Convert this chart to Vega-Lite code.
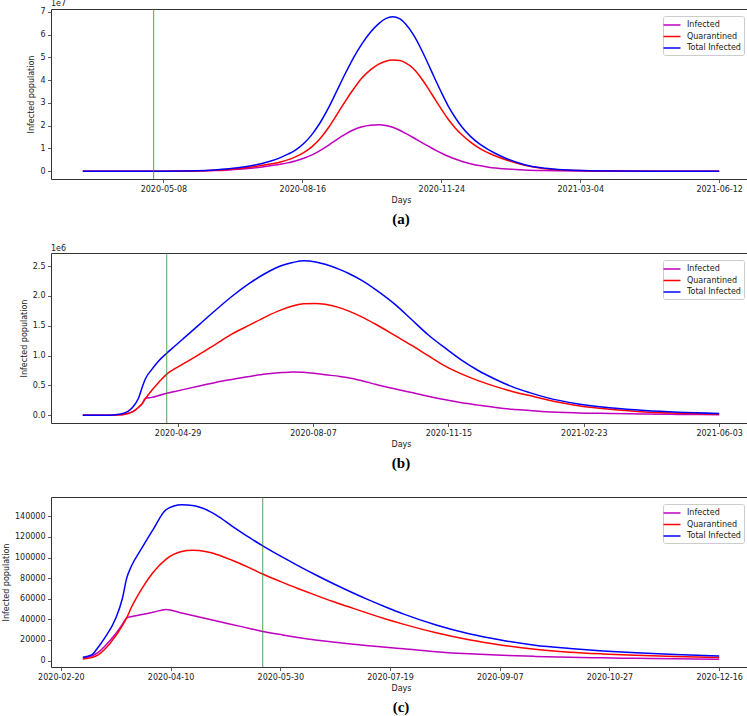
{
  "$schema": "https://vega.github.io/schema/vega-lite/v6.json",
  "padding": {"left": 1, "top": 0, "right": 0, "bottom": 0},
  "spacing": 17,
  "config": {
    "font": "DejaVu Sans",
    "view": {"stroke": "#333333", "strokeWidth": 1},
    "axis": {"grid": false, "domain": false, "tickColor": "#333333", "tickSize": 3.5, "tickWidth": 0.8, "labelFontSize": 8, "labelColor": "#1a1a1a", "labelPadding": 2.5, "labelFlush": false, "titleFontSize": 8, "titleFontWeight": "normal", "titleColor": "#1a1a1a", "titlePadding": 3, "labelFont": "DejaVu Sans", "titleFont": "DejaVu Sans"},
    "axisY": {"titlePadding": 4},
    "legend": {"orient": "top-right", "offset": 7, "symbolType": "M-1.7,0H1.7", "symbolSize": 100, "symbolStrokeWidth": 1.5, "labelFontSize": 8, "labelFont": "DejaVu Sans", "labelColor": "#1a1a1a", "labelOffset": 9, "padding": 3, "rowPadding": 1.5, "strokeColor": "#cccccc", "fillColor": "#ffffff", "cornerRadius": 2}
  },
  "resolve": {"scale": {"color": "independent", "x": "independent", "y": "independent"}, "legend": {"color": "independent"}},
  "vconcat": [
    {
      "title": {"text": "1e7", "anchor": "start", "orient": "top", "frame": "group", "fontSize": 8, "fontWeight": "normal", "offset": -1, "font": "DejaVu Sans", "color": "#1a1a1a"},
      "resolve": {"scale": {"color": "independent"}, "legend": {"color": "independent"}},
      "vconcat": [
        {
          "title": {"text": "(a)", "orient": "bottom", "font": "Liberation Serif", "fontSize": 15, "fontWeight": "bold", "anchor": "middle", "frame": "group", "offset": 8, "color": "#000000"},
          "width": 700,
          "height": 170,
          "layer": [
            {
              "data": {"values": [
                {"d": "2020-03-11", "Infected": 1000, "Quarantined": 1000, "Total Infected": 1000},
                {"d": "2020-04-10", "Infected": 3000, "Quarantined": 3000, "Total Infected": 5000},
                {"d": "2020-05-10", "Infected": 20000, "Quarantined": 20000, "Total Infected": 30000},
                {"d": "2020-05-31", "Infected": 100000, "Quarantined": 120000, "Total Infected": 200000},
                {"d": "2020-06-14", "Infected": 300000, "Quarantined": 400000, "Total Infected": 600000},
                {"d": "2020-06-24", "Infected": 600000, "Quarantined": 800000, "Total Infected": 1100000},
                {"d": "2020-07-06", "Infected": 1100000, "Quarantined": 1500000, "Total Infected": 2000000},
                {"d": "2020-07-18", "Infected": 1900000, "Quarantined": 2600000, "Total Infected": 3400000},
                {"d": "2020-07-25", "Infected": 2500000, "Quarantined": 3300000, "Total Infected": 4600000},
                {"d": "2020-08-01", "Infected": 3200000, "Quarantined": 4200000, "Total Infected": 6200000},
                {"d": "2020-08-06", "Infected": 3800000, "Quarantined": 5100000, "Total Infected": 7600000},
                {"d": "2020-08-11", "Infected": 4500000, "Quarantined": 6300000, "Total Infected": 9300000},
                {"d": "2020-08-17", "Infected": 5700000, "Quarantined": 8200000, "Total Infected": 12200000},
                {"d": "2020-08-23", "Infected": 7200000, "Quarantined": 10800000, "Total Infected": 16200000},
                {"d": "2020-08-29", "Infected": 9200000, "Quarantined": 14500000, "Total Infected": 21500000},
                {"d": "2020-09-04", "Infected": 11500000, "Quarantined": 19300000, "Total Infected": 28000000},
                {"d": "2020-09-10", "Infected": 14000000, "Quarantined": 25000000, "Total Infected": 35500000},
                {"d": "2020-09-16", "Infected": 16300000, "Quarantined": 30800000, "Total Infected": 43000000},
                {"d": "2020-09-22", "Infected": 18200000, "Quarantined": 36200000, "Total Infected": 50000000},
                {"d": "2020-09-28", "Infected": 19500000, "Quarantined": 41000000, "Total Infected": 56000000},
                {"d": "2020-10-04", "Infected": 20200000, "Quarantined": 44500000, "Total Infected": 61000000},
                {"d": "2020-10-10", "Infected": 20400000, "Quarantined": 47000000, "Total Infected": 64800000},
                {"d": "2020-10-15", "Infected": 20100000, "Quarantined": 48300000, "Total Infected": 67000000},
                {"d": "2020-10-20", "Infected": 19300000, "Quarantined": 48800000, "Total Infected": 67800000},
                {"d": "2020-10-25", "Infected": 18000000, "Quarantined": 48600000, "Total Infected": 67000000},
                {"d": "2020-10-29", "Infected": 16700000, "Quarantined": 47700000, "Total Infected": 64800000},
                {"d": "2020-11-04", "Infected": 14700000, "Quarantined": 45000000, "Total Infected": 59800000},
                {"d": "2020-11-10", "Infected": 12600000, "Quarantined": 40500000, "Total Infected": 53000000},
                {"d": "2020-11-15", "Infected": 10900000, "Quarantined": 35900000, "Total Infected": 46500000},
                {"d": "2020-11-20", "Infected": 9200000, "Quarantined": 31100000, "Total Infected": 39800000},
                {"d": "2020-11-25", "Infected": 7700000, "Quarantined": 26400000, "Total Infected": 33400000},
                {"d": "2020-11-29", "Infected": 6600000, "Quarantined": 22800000, "Total Infected": 28600000},
                {"d": "2020-12-04", "Infected": 5400000, "Quarantined": 19000000, "Total Infected": 23600000},
                {"d": "2020-12-09", "Infected": 4300000, "Quarantined": 15900000, "Total Infected": 19300000},
                {"d": "2020-12-15", "Infected": 3300000, "Quarantined": 12800000, "Total Infected": 15300000},
                {"d": "2020-12-21", "Infected": 2500000, "Quarantined": 10300000, "Total Infected": 12200000},
                {"d": "2020-12-27", "Infected": 1900000, "Quarantined": 8300000, "Total Infected": 9800000},
                {"d": "2021-01-02", "Infected": 1400000, "Quarantined": 6700000, "Total Infected": 7800000},
                {"d": "2021-01-11", "Infected": 950000, "Quarantined": 4700000, "Total Infected": 5300000},
                {"d": "2021-01-23", "Infected": 560000, "Quarantined": 2600000, "Total Infected": 2900000},
                {"d": "2021-02-04", "Infected": 330000, "Quarantined": 1350000, "Total Infected": 1500000},
                {"d": "2021-02-16", "Infected": 200000, "Quarantined": 680000, "Total Infected": 750000},
                {"d": "2021-03-06", "Infected": 100000, "Quarantined": 280000, "Total Infected": 310000},
                {"d": "2021-03-31", "Infected": 50000, "Quarantined": 110000, "Total Infected": 120000},
                {"d": "2021-05-05", "Infected": 20000, "Quarantined": 40000, "Total Infected": 50000},
                {"d": "2021-06-12", "Infected": 10000, "Quarantined": 20000, "Total Infected": 20000}
              ]},
              "transform": [{"fold": ["Infected", "Quarantined", "Total Infected"], "as": ["series", "value"]}],
              "mark": {"type": "line", "strokeWidth": 1.5, "interpolate": "monotone"},
              "encoding": {
                "x": {"field": "d", "type": "temporal", "scale": {"type": "utc", "nice": false, "domain": [{"year": 2020, "month": 2, "date": 17, "hours": 2, "minutes": 24, "utc": true}, {"year": 2021, "month": 7, "date": 4, "hours": 21, "minutes": 36, "utc": true}]},
                  "axis": {"title": "Days", "format": "%Y-%m-%d", "values": [{"year": 2020, "month": 5, "date": 8, "utc": true}, {"year": 2020, "month": 8, "date": 16, "utc": true}, {"year": 2020, "month": 11, "date": 24, "utc": true}, {"year": 2021, "month": 3, "date": 4, "utc": true}, {"year": 2021, "month": 6, "date": 12, "utc": true}]}},
                "y": {"field": "value", "type": "quantitative", "scale": {"domain": [-3390000, 71190000], "nice": false, "zero": false},
                  "axis": {"title": "Infected population", "values": [0, 10000000, 20000000, 30000000, 40000000, 50000000, 60000000, 70000000], "labelExpr": "format(datum.value / 10000000, 'd')"}},
                "color": {"field": "series", "type": "nominal", "scale": {"domain": ["Infected", "Quarantined", "Total Infected"], "range": ["#bf00bf", "#ff0000", "#0000ff"]}, "legend": {"title": null, "orient": "top-right"}}
              }
            },
            {
              "data": {"values": [{"d": "2020-05-01"}]},
              "mark": {"type": "rule", "color": "#2e8b2e", "strokeWidth": 1, "opacity": 0.8},
              "encoding": {"x": {"field": "d", "type": "temporal"}}
            }
          ]
        }
      ]
    },
    {
      "title": {"text": "1e6", "anchor": "start", "orient": "top", "frame": "group", "fontSize": 8, "fontWeight": "normal", "offset": -1, "font": "DejaVu Sans", "color": "#1a1a1a"},
      "resolve": {"scale": {"color": "independent"}, "legend": {"color": "independent"}},
      "vconcat": [
        {
          "title": {"text": "(b)", "orient": "bottom", "font": "Liberation Serif", "fontSize": 15, "fontWeight": "bold", "anchor": "middle", "frame": "group", "offset": 8, "color": "#000000"},
          "width": 700,
          "height": 170,
          "layer": [
            {
              "data": {"values": [
                {"d": "2020-02-19", "Infected": 100, "Quarantined": 100, "Total Infected": 100},
                {"d": "2020-03-10", "Infected": 1000, "Quarantined": 1000, "Total Infected": 1000},
                {"d": "2020-03-18", "Infected": 8000, "Quarantined": 8000, "Total Infected": 20000},
                {"d": "2020-03-23", "Infected": 30000, "Quarantined": 30000, "Total Infected": 60000},
                {"d": "2020-03-27", "Infected": 60000, "Quarantined": 60000, "Total Infected": 140000},
                {"d": "2020-03-31", "Infected": 130000, "Quarantined": 130000, "Total Infected": 280000},
                {"d": "2020-04-03", "Infected": 200000, "Quarantined": 200000, "Total Infected": 480000},
                {"d": "2020-04-05", "Infected": 280000, "Quarantined": 270000, "Total Infected": 600000},
                {"d": "2020-04-10", "Infected": 300000, "Quarantined": 420000, "Total Infected": 770000},
                {"d": "2020-04-15", "Infected": 330000, "Quarantined": 550000, "Total Infected": 910000},
                {"d": "2020-04-21", "Infected": 370000, "Quarantined": 690000, "Total Infected": 1040000},
                {"d": "2020-04-27", "Infected": 400000, "Quarantined": 780000, "Total Infected": 1160000},
                {"d": "2020-05-03", "Infected": 430000, "Quarantined": 860000, "Total Infected": 1280000},
                {"d": "2020-05-15", "Infected": 490000, "Quarantined": 1020000, "Total Infected": 1520000},
                {"d": "2020-05-27", "Infected": 550000, "Quarantined": 1190000, "Total Infected": 1760000},
                {"d": "2020-06-08", "Infected": 600000, "Quarantined": 1360000, "Total Infected": 1990000},
                {"d": "2020-06-21", "Infected": 650000, "Quarantined": 1510000, "Total Infected": 2210000},
                {"d": "2020-07-03", "Infected": 690000, "Quarantined": 1650000, "Total Infected": 2380000},
                {"d": "2020-07-15", "Infected": 715000, "Quarantined": 1770000, "Total Infected": 2510000},
                {"d": "2020-07-23", "Infected": 725000, "Quarantined": 1830000, "Total Infected": 2560000},
                {"d": "2020-07-31", "Infected": 720000, "Quarantined": 1870000, "Total Infected": 2590000},
                {"d": "2020-08-09", "Infected": 700000, "Quarantined": 1875000, "Total Infected": 2570000},
                {"d": "2020-08-16", "Infected": 680000, "Quarantined": 1860000, "Total Infected": 2530000},
                {"d": "2020-08-27", "Infected": 650000, "Quarantined": 1800000, "Total Infected": 2440000},
                {"d": "2020-09-02", "Infected": 630000, "Quarantined": 1750000, "Total Infected": 2380000},
                {"d": "2020-09-12", "Infected": 580000, "Quarantined": 1650000, "Total Infected": 2260000},
                {"d": "2020-09-22", "Infected": 520000, "Quarantined": 1530000, "Total Infected": 2110000},
                {"d": "2020-10-07", "Infected": 440000, "Quarantined": 1330000, "Total Infected": 1850000},
                {"d": "2020-10-19", "Infected": 380000, "Quarantined": 1170000, "Total Infected": 1600000},
                {"d": "2020-10-31", "Infected": 320000, "Quarantined": 1000000, "Total Infected": 1350000},
                {"d": "2020-11-13", "Infected": 260000, "Quarantined": 820000, "Total Infected": 1120000},
                {"d": "2020-11-25", "Infected": 210000, "Quarantined": 690000, "Total Infected": 920000},
                {"d": "2020-12-07", "Infected": 170000, "Quarantined": 580000, "Total Infected": 750000},
                {"d": "2020-12-20", "Infected": 130000, "Quarantined": 480000, "Total Infected": 600000},
                {"d": "2021-01-01", "Infected": 100000, "Quarantined": 400000, "Total Infected": 480000},
                {"d": "2021-01-14", "Infected": 80000, "Quarantined": 330000, "Total Infected": 380000},
                {"d": "2021-01-26", "Infected": 60000, "Quarantined": 265000, "Total Infected": 300000},
                {"d": "2021-02-19", "Infected": 40000, "Quarantined": 160000, "Total Infected": 190000},
                {"d": "2021-03-16", "Infected": 30000, "Quarantined": 95000, "Total Infected": 120000},
                {"d": "2021-04-09", "Infected": 20000, "Quarantined": 55000, "Total Infected": 78000},
                {"d": "2021-05-04", "Infected": 15000, "Quarantined": 35000, "Total Infected": 50000},
                {"d": "2021-06-03", "Infected": 10000, "Quarantined": 20000, "Total Infected": 30000}
              ]},
              "transform": [{"fold": ["Infected", "Quarantined", "Total Infected"], "as": ["series", "value"]}],
              "mark": {"type": "line", "strokeWidth": 1.5, "interpolate": "monotone"},
              "encoding": {
                "x": {"field": "d", "type": "temporal", "scale": {"type": "utc", "nice": false, "domain": [{"year": 2020, "month": 1, "date": 26, "hours": 12, "utc": true}, {"year": 2021, "month": 6, "date": 26, "hours": 12, "utc": true}]},
                  "axis": {"title": "Days", "format": "%Y-%m-%d", "values": [{"year": 2020, "month": 4, "date": 29, "utc": true}, {"year": 2020, "month": 8, "date": 7, "utc": true}, {"year": 2020, "month": 11, "date": 15, "utc": true}, {"year": 2021, "month": 2, "date": 23, "utc": true}, {"year": 2021, "month": 6, "date": 3, "utc": true}]}},
                "y": {"field": "value", "type": "quantitative", "scale": {"domain": [-129500, 2719500], "nice": false, "zero": false},
                  "axis": {"title": "Infected population", "values": [0, 500000, 1000000, 1500000, 2000000, 2500000], "labelExpr": "format(datum.value / 1000000, '.1f')"}},
                "color": {"field": "series", "type": "nominal", "scale": {"domain": ["Infected", "Quarantined", "Total Infected"], "range": ["#bf00bf", "#ff0000", "#0000ff"]}, "legend": {"title": null, "orient": "top-right"}}
              }
            },
            {
              "data": {"values": [{"d": "2020-04-21"}]},
              "mark": {"type": "rule", "color": "#2e8b2e", "strokeWidth": 1, "opacity": 0.8},
              "encoding": {"x": {"field": "d", "type": "temporal"}}
            }
          ]
        }
      ]
    },
    {
      "title": {"text": " ", "anchor": "start", "orient": "top", "frame": "group", "fontSize": 8, "fontWeight": "normal", "offset": -1, "font": "DejaVu Sans", "color": "#1a1a1a"},
      "resolve": {"scale": {"color": "independent"}, "legend": {"color": "independent"}},
      "vconcat": [
        {
          "title": {"text": "(c)", "orient": "bottom", "font": "Liberation Serif", "fontSize": 15, "fontWeight": "bold", "anchor": "middle", "frame": "group", "offset": 8, "color": "#000000"},
          "width": 700,
          "height": 170,
          "layer": [
            {
              "data": {"values": [
                {"d": "2020-03-01", "Infected": 2200, "Quarantined": 1600, "Total Infected": 3200},
                {"d": "2020-03-05", "Infected": 4500, "Quarantined": 2900, "Total Infected": 5500},
                {"d": "2020-03-08", "Infected": 8000, "Quarantined": 5500, "Total Infected": 13000},
                {"d": "2020-03-11", "Infected": 14000, "Quarantined": 11000, "Total Infected": 22000},
                {"d": "2020-03-16", "Infected": 26000, "Quarantined": 24000, "Total Infected": 41000},
                {"d": "2020-03-19", "Infected": 35000, "Quarantined": 34000, "Total Infected": 60000},
                {"d": "2020-03-21", "Infected": 41500, "Quarantined": 41500, "Total Infected": 80000},
                {"d": "2020-03-23", "Infected": 42500, "Quarantined": 51000, "Total Infected": 91000},
                {"d": "2020-03-28", "Infected": 44700, "Quarantined": 70000, "Total Infected": 109500},
                {"d": "2020-04-02", "Infected": 46900, "Quarantined": 85500, "Total Infected": 127000},
                {"d": "2020-04-08", "Infected": 49600, "Quarantined": 98500, "Total Infected": 146500},
                {"d": "2020-04-15", "Infected": 46200, "Quarantined": 105800, "Total Infected": 151200},
                {"d": "2020-04-20", "Infected": 43800, "Quarantined": 107100, "Total Infected": 150500},
                {"d": "2020-04-23", "Infected": 42300, "Quarantined": 106800, "Total Infected": 149000},
                {"d": "2020-04-28", "Infected": 39900, "Quarantined": 104800, "Total Infected": 144500},
                {"d": "2020-05-01", "Infected": 38400, "Quarantined": 103000, "Total Infected": 140800},
                {"d": "2020-05-08", "Infected": 35000, "Quarantined": 97400, "Total Infected": 130500},
                {"d": "2020-05-16", "Infected": 31200, "Quarantined": 90000, "Total Infected": 119200},
                {"d": "2020-05-22", "Infected": 28300, "Quarantined": 84000, "Total Infected": 111300},
                {"d": "2020-05-31", "Infected": 24900, "Quarantined": 75900, "Total Infected": 100300},
                {"d": "2020-06-07", "Infected": 22500, "Quarantined": 70000, "Total Infected": 92200},
                {"d": "2020-06-15", "Infected": 20100, "Quarantined": 63500, "Total Infected": 83300},
                {"d": "2020-06-23", "Infected": 18000, "Quarantined": 57300, "Total Infected": 74800},
                {"d": "2020-06-29", "Infected": 16600, "Quarantined": 53000, "Total Infected": 68700},
                {"d": "2020-07-09", "Infected": 14500, "Quarantined": 45800, "Total Infected": 59100},
                {"d": "2020-07-17", "Infected": 12900, "Quarantined": 40400, "Total Infected": 52000},
                {"d": "2020-07-25", "Infected": 11500, "Quarantined": 35400, "Total Infected": 45300},
                {"d": "2020-08-09", "Infected": 8700, "Quarantined": 27000, "Total Infected": 34500},
                {"d": "2020-08-24", "Infected": 6600, "Quarantined": 20200, "Total Infected": 26000},
                {"d": "2020-09-08", "Infected": 5100, "Quarantined": 15000, "Total Infected": 19700},
                {"d": "2020-09-23", "Infected": 4100, "Quarantined": 11000, "Total Infected": 15000},
                {"d": "2020-10-09", "Infected": 3300, "Quarantined": 8200, "Total Infected": 11800},
                {"d": "2020-10-24", "Infected": 2700, "Quarantined": 6500, "Total Infected": 9400},
                {"d": "2020-11-08", "Infected": 2200, "Quarantined": 5200, "Total Infected": 7600},
                {"d": "2020-11-26", "Infected": 1700, "Quarantined": 4000, "Total Infected": 6000},
                {"d": "2020-12-16", "Infected": 1300, "Quarantined": 3000, "Total Infected": 4500}
              ]},
              "transform": [{"fold": ["Infected", "Quarantined", "Total Infected"], "as": ["series", "value"]}],
              "mark": {"type": "line", "strokeWidth": 1.5, "interpolate": "monotone"},
              "encoding": {
                "x": {"field": "d", "type": "temporal", "scale": {"type": "utc", "nice": false, "domain": [{"year": 2020, "month": 2, "date": 15, "hours": 12, "utc": true}, {"year": 2020, "month": 12, "date": 30, "hours": 12, "utc": true}]},
                  "axis": {"title": "Days", "format": "%Y-%m-%d", "values": [{"year": 2020, "month": 2, "date": 20, "utc": true}, {"year": 2020, "month": 4, "date": 10, "utc": true}, {"year": 2020, "month": 5, "date": 30, "utc": true}, {"year": 2020, "month": 7, "date": 19, "utc": true}, {"year": 2020, "month": 9, "date": 7, "utc": true}, {"year": 2020, "month": 10, "date": 27, "utc": true}, {"year": 2020, "month": 12, "date": 16, "utc": true}]}},
                "y": {"field": "value", "type": "quantitative", "scale": {"domain": [-6200, 158700], "nice": false, "zero": false},
                  "axis": {"title": "Infected population", "values": [0, 20000, 40000, 60000, 80000, 100000, 120000, 140000], "format": "d"}},
                "color": {"field": "series", "type": "nominal", "scale": {"domain": ["Infected", "Quarantined", "Total Infected"], "range": ["#bf00bf", "#ff0000", "#0000ff"]}, "legend": {"title": null, "orient": "top-right"}}
              }
            },
            {
              "data": {"values": [{"d": "2020-05-22"}]},
              "mark": {"type": "rule", "color": "#2e8b2e", "strokeWidth": 1, "opacity": 0.8},
              "encoding": {"x": {"field": "d", "type": "temporal"}}
            }
          ]
        }
      ]
    }
  ]
}
